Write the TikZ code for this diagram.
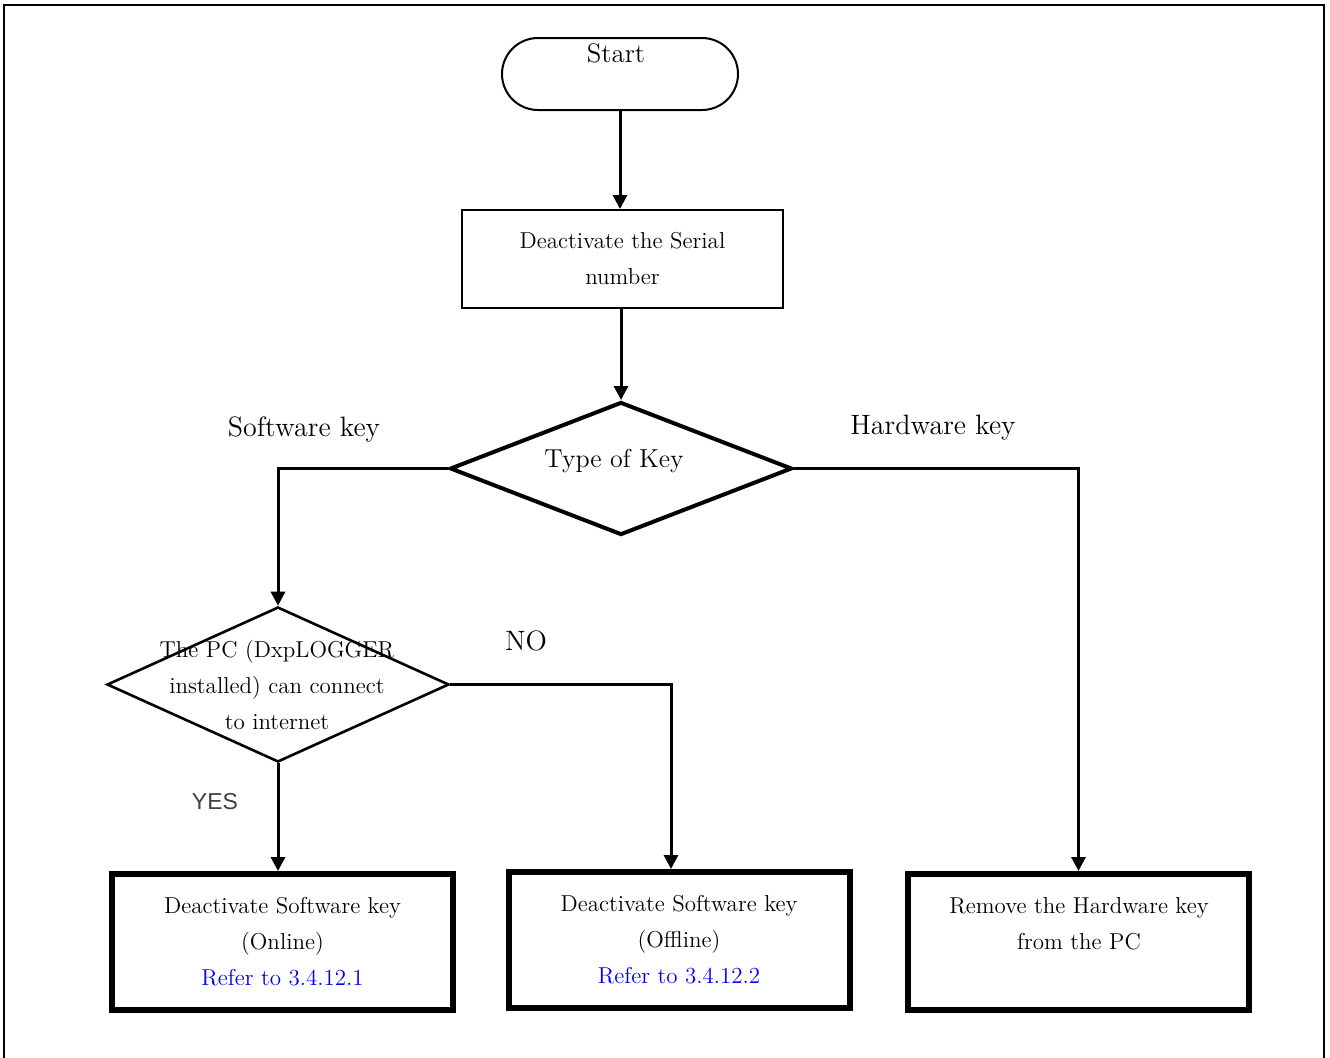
\documentclass[tikz,border=0pt]{standalone}
\usepackage{fontspec}
\newfontfamily\yesfont{Liberation Sans}
\usetikzlibrary{shapes.geometric,arrows.meta}

\begin{document}
\begin{tikzpicture}[x=0.5pt,y=-0.5pt,
  txt/.style={font=\fontsize{11.5}{18}\selectfont, align=center},
  big/.style={font=\fontsize{14}{16}\selectfont},
  flow/.style={line width=1.5pt, -{Triangle[length=7pt,width=7pt]}},
  proc/.style={draw, line width=3pt, minimum width=170.5pt, minimum height=68pt, txt}]
\useasboundingbox (0,0) rectangle (1330,1057);
\draw[line width=1.2pt] (4,5) rectangle (1324,1070);

% start and serial number
\node[draw, line width=1pt, rounded corners=18pt, minimum width=118pt, minimum height=36pt] (start) at (620,74) {};
\node[font=\fontsize{13.4}{16}\selectfont] (starttxt) at (616,53) {Start};
\node[draw, line width=1pt, minimum width=160.5pt, minimum height=49pt, txt] (serial) at (622.5,259) {Deactivate the Serial\\number};

% decisions
\node[draw, diamond, line width=2pt, minimum width=171pt, minimum height=66.5pt, inner sep=0pt] (type) at (621,468.5) {};
\node[font=\fontsize{13}{16}\selectfont] (typetxt) at (614,461) {Type of Key};
\node[draw, diamond, line width=1.3pt, minimum width=171pt, minimum height=77.5pt, inner sep=0pt] (conn) at (278,684.5) {};
\node[txt] (conntxt) at (277,685) {The PC (DxpLOGGER\\installed) can connect\\to internet};

% results
\node[proc] (on) at (282.5,942) {Deactivate Software key\\(Online)\\\textcolor{blue}{Refer to 3.4.12.1}};
\node[proc] (off) at (679,940) {Deactivate Software key\\(Offline)\\\textcolor{blue}{Refer to 3.4.12.2}};
\node[proc] (hw) at (1078.5,942) {};
\node[txt] (hwtxt) at (1079,924) {Remove the Hardware key\\from the PC};

% labels
\node[big] (swlbl) at (304,429) {Software key};
\node[big] (hwlbl) at (933,428) {Hardware key};
\node[big] (nolbl) at (526,641) {NO};
\node[font=\yesfont\fontsize{11.5}{14}\selectfont, text=black!75] (yeslbl) at (215,802) {YES};

% connectors
\coordinate (nobend) at (671,684.5);
\draw[flow] (start.south) -- (start.south |- serial.north);
\draw[flow] (type.north |- serial.south) -- (type.north);
\draw[flow] (type.west) -| (conn.north);
\draw[flow] (type.east) -| (hw.north);
\draw[flow] (conn.east) -- (nobend) -- (nobend |- off.north);
\draw[flow] (conn.south) -- (conn.south |- on.north);
\end{tikzpicture}
\end{document}
